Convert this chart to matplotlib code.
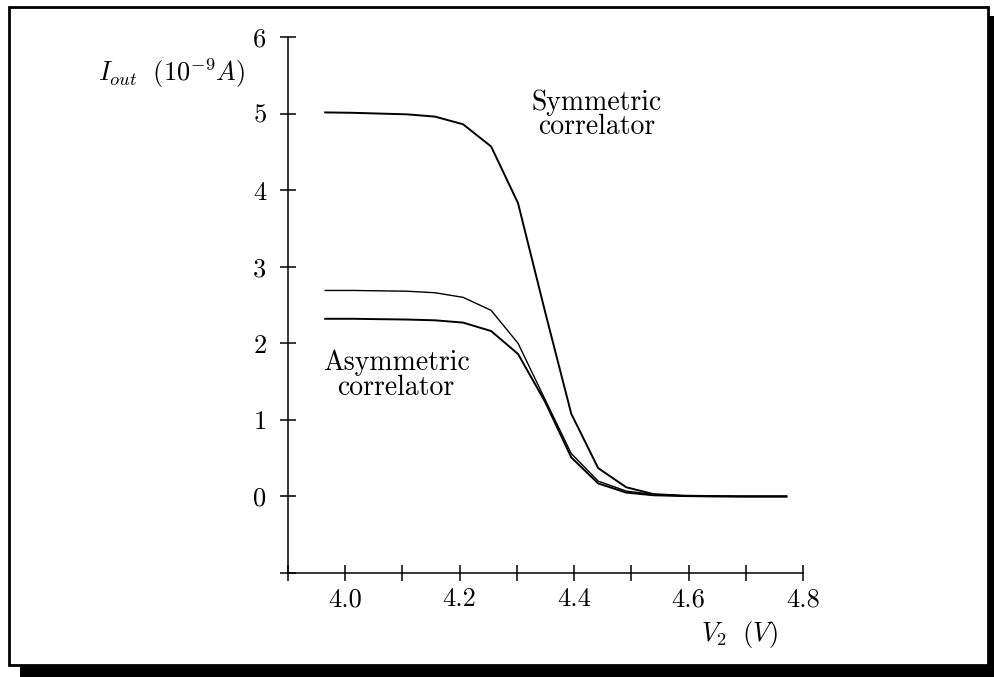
import numpy as np
import matplotlib
matplotlib.use("Agg")
import matplotlib.pyplot as plt
from matplotlib.patches import Rectangle

plt.rcParams['font.family'] = 'cmr10'
plt.rcParams['mathtext.fontset'] = 'cm'
plt.rcParams['axes.unicode_minus'] = False

# bias voltage V2 (V)
v2 = [3.965, 4.013, 4.060, 4.108, 4.157, 4.206, 4.255, 4.302, 4.349,
      4.395, 4.442, 4.491, 4.539, 4.590, 4.640, 4.690, 4.740, 4.771]

# output current (1e-9 A)
i_sym = [5.015, 5.01, 5.00, 4.99, 4.96, 4.86, 4.57, 3.83, 2.42,
         1.08, 0.37, 0.12, 0.03, 0.01, 0.005, 0.0, 0.0, 0.0]
i_asym_hi = [2.69, 2.69, 2.685, 2.68, 2.66, 2.60, 2.43, 2.00, 1.27,
             0.56, 0.20, 0.07, 0.025, 0.01, 0.005, 0.0, 0.0, 0.0]
i_asym_lo = [2.32, 2.32, 2.315, 2.31, 2.30, 2.27, 2.16, 1.86, 1.24,
             0.51, 0.17, 0.05, 0.015, 0.005, 0.0, 0.0, 0.0, 0.0]

xticks = [3.9, 4.0, 4.1, 4.2, 4.3, 4.4, 4.5, 4.6, 4.7, 4.8]
xlabels = ['', '4.0', '', '4.2', '', '4.4', '', '4.6', '', '4.8']
yticks = [-1, 0, 1, 2, 3, 4, 5, 6]
ylabels = ['', '0', '1', '2', '3', '4', '5', '6']

W, H = 994, 677
fig = plt.figure(figsize=(W / 100, H / 100), dpi=100)

# boxed frame with a drop shadow
fig.patches.append(Rectangle((20 / W, -20 / H), 990 / W, (H - 16 + 20) / H,
                             transform=fig.transFigure, facecolor='black',
                             edgecolor='none', zorder=0))
fig.patches.append(Rectangle((9 / W, 1 - 665 / H), 979 / W, 658 / H,
                             transform=fig.transFigure, facecolor='white',
                             edgecolor='black', linewidth=2, zorder=1))

ax = fig.add_axes([288 / W, 1 - 573 / H, (803 - 288) / W, (573 - 37) / H])
ax.patch.set_visible(False)
ax.set_zorder(2)

ax.plot(v2, i_sym, color='black', linewidth=1.4)
ax.plot(v2, i_asym_hi, color='black', linewidth=1.0)
ax.plot(v2, i_asym_lo, color='black', linewidth=1.4)

ax.set_xlim(3.9, 4.8)
ax.set_ylim(-1, 6)
for s in ['top', 'right']:
    ax.spines[s].set_visible(False)
for s in ['left', 'bottom']:
    ax.spines[s].set_linewidth(1.1)

ax.set_xticks(xticks)
ax.set_xticklabels(xlabels)
ax.set_yticks(yticks)
ax.set_yticklabels(ylabels)
ax.tick_params(direction='inout', length=11, width=1.1, labelsize=19)
ax.tick_params(axis='y', pad=10)
ax.tick_params(axis='x', pad=5)

# curve annotations, placed by baseline in pixels
fs = 20
def note(x, y, s):
    fig.text(x / W, 1 - y / H, s, fontsize=fs, ha='center', va='baseline', zorder=3)

note(597, 110, 'Symmetric')
note(597, 134, 'correlator')
note(396, 370, 'Asymmetric')
note(396, 395, 'correlator')

fig.text(172 / W, 1 - 73 / H, r'$I_{out}\ \ (10^{-9}A)$', fontsize=19,
         ha='center', va='center', zorder=3)
fig.text(740 / W, 1 - 634 / H, r'$V_2\ \ (V)$', fontsize=19,
         ha='center', va='center', zorder=3)

fig.savefig('out.png', dpi=100)
